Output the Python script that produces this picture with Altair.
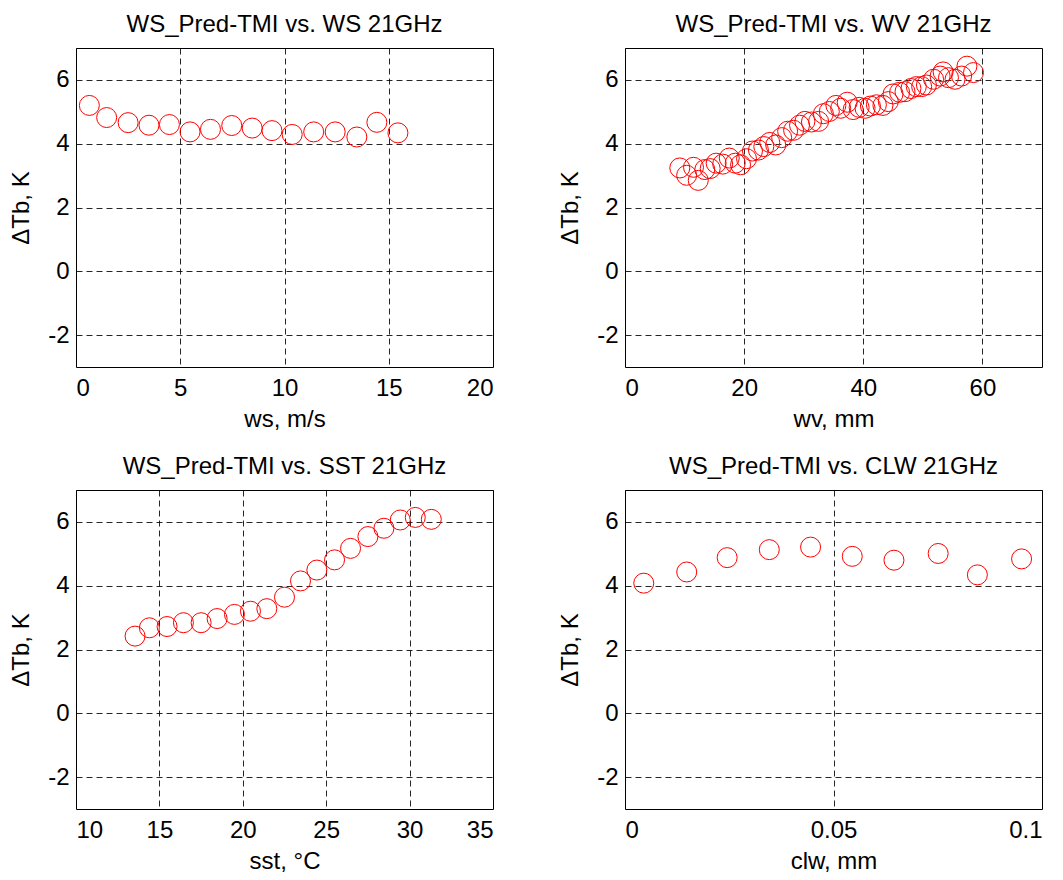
import altair as alt
import pandas as pd

# Panel 1: WS
ws_x = [0.64, 1.47, 2.5, 3.5, 4.48, 5.47, 6.45, 7.47, 8.45, 9.4, 10.37, 11.4, 12.43, 13.47, 14.43, 15.44]
ws_y = [5.20, 4.82, 4.66, 4.58, 4.60, 4.37, 4.45, 4.57, 4.49, 4.41, 4.29, 4.37, 4.37, 4.21, 4.67, 4.34]

# Panel 2: WV
wv_x = [9.2, 10.35, 11.5, 12.3, 13.4, 14.3, 15.3, 16.4, 17.5, 18.5, 19.4, 20.4, 21.4, 22.4, 23.3,
        24.3, 25.3, 26.3, 27.3, 28.3, 29.3, 30.2, 31.3, 32.5, 33.3, 34.3, 35.4, 36.2, 37.3, 38.3,
        39.3, 40.3, 41.2, 42.2, 43.3, 44.2, 45.0, 46.1, 47.0, 48.0, 48.9, 49.8, 50.6, 51.8, 52.9,
        53.4, 54.3, 55.4, 56.5, 57.4, 58.5]
wv_y = [3.24, 3.01, 3.26, 2.85, 3.19, 3.22, 3.39, 3.36, 3.55, 3.39, 3.34, 3.53, 3.77, 3.80, 3.91,
        4.04, 3.96, 4.19, 4.39, 4.42, 4.58, 4.70, 4.68, 4.70, 4.94, 5.01, 5.20, 5.11, 5.30, 5.07,
        5.14, 5.11, 5.18, 5.22, 5.20, 5.32, 5.56, 5.61, 5.63, 5.73, 5.79, 5.79, 5.84, 6.02, 6.12,
        6.25, 6.07, 6.02, 6.12, 6.43, 6.23]

# Panel 3: SST
sst_x = [13.54, 14.4, 15.46, 16.44, 17.5, 18.46, 19.5, 20.46, 21.44, 22.5, 23.46, 24.44, 25.5,
         26.46, 27.5, 28.46, 29.44, 30.34, 31.3]
sst_y = [2.42, 2.68, 2.72, 2.84, 2.84, 2.97, 3.10, 3.20, 3.28, 3.64, 4.15, 4.49, 4.81, 5.17,
         5.54, 5.80, 6.06, 6.14, 6.08]

# Panel 4: CLW
clw_x = [0.0045, 0.0148, 0.0245, 0.0346, 0.0445, 0.0545, 0.0645, 0.0751, 0.0845, 0.0951]
clw_y = [4.08, 4.43, 4.88, 5.13, 5.21, 4.92, 4.80, 5.01, 4.34, 4.84]

titles = ["WS_Pred-TMI vs. WS 21GHz", "WS_Pred-TMI vs. WV 21GHz",
          "WS_Pred-TMI vs. SST 21GHz", "WS_Pred-TMI vs. CLW 21GHz"]
xlabels = ["ws, m/s", "wv, mm", "sst, \u00b0C", "clw, mm"]
xdomains = [[0, 20], [0, 70], [10, 35], [0, 0.1]]
xticks = [[0, 5, 10, 15, 20], [0, 20, 40, 60], [10, 15, 20, 25, 30, 35], [0, 0.05, 0.1]]
ylabel = "\u0394Tb, K"
yticks = [-2, 0, 2, 4, 6]
ydomain = [-3, 7]

FONT = "Liberation Sans"
FS = 24


def panel(xs, ys, i):
    df = pd.DataFrame({"x": xs, "y": ys})
    return (
        alt.Chart(df, title=alt.TitleParams(titles[i], fontSize=FS, font=FONT, fontWeight="normal",
                                            color="black", offset=11))
        .mark_point(shape="circle", filled=False, color="#ff0000", size=400, strokeWidth=1, opacity=1)
        .encode(
            x=alt.X("x:Q", title=xlabels[i],
                    scale=alt.Scale(domain=xdomains[i], nice=False, zero=False),
                    axis=alt.Axis(values=xticks[i], labelExpr="'' + datum.value")),
            y=alt.Y("y:Q", title=ylabel,
                    scale=alt.Scale(domain=ydomain, nice=False, zero=False),
                    axis=alt.Axis(values=yticks, labelExpr="'' + datum.value")),
        )
        .properties(width=417, height=319)
    )


p1 = panel(ws_x, ws_y, 0)
p2 = panel(wv_x, wv_y, 1)
p3 = panel(sst_x, sst_y, 2)
p4 = panel(clw_x, clw_y, 3)

chart = (
    alt.vconcat(
        alt.hconcat(p1, p2, spacing=64),
        alt.hconcat(p3, p4, spacing=64),
        spacing=22,
    )
    .properties(padding={"left": 1, "top": 4, "right": 0, "bottom": 5})
    .configure_view(stroke="black", strokeWidth=1)
    .configure_axis(
        grid=True, gridColor="black", gridDash=[6, 4], gridOpacity=0.85, gridWidth=1,
        domain=False, ticks=False, tickSize=0,
        labelFont=FONT, labelFontSize=FS, labelColor="black",
        titleFont=FONT, titleFontSize=FS, titleColor="black", titleFontWeight="normal",
    )
    .configure_axisX(labelPadding=9, titlePadding=7)
    .configure_axisY(labelPadding=7, titlePadding=14)
)

chart.save("out.html", embed_options={"renderer": "svg", "actions": False})
